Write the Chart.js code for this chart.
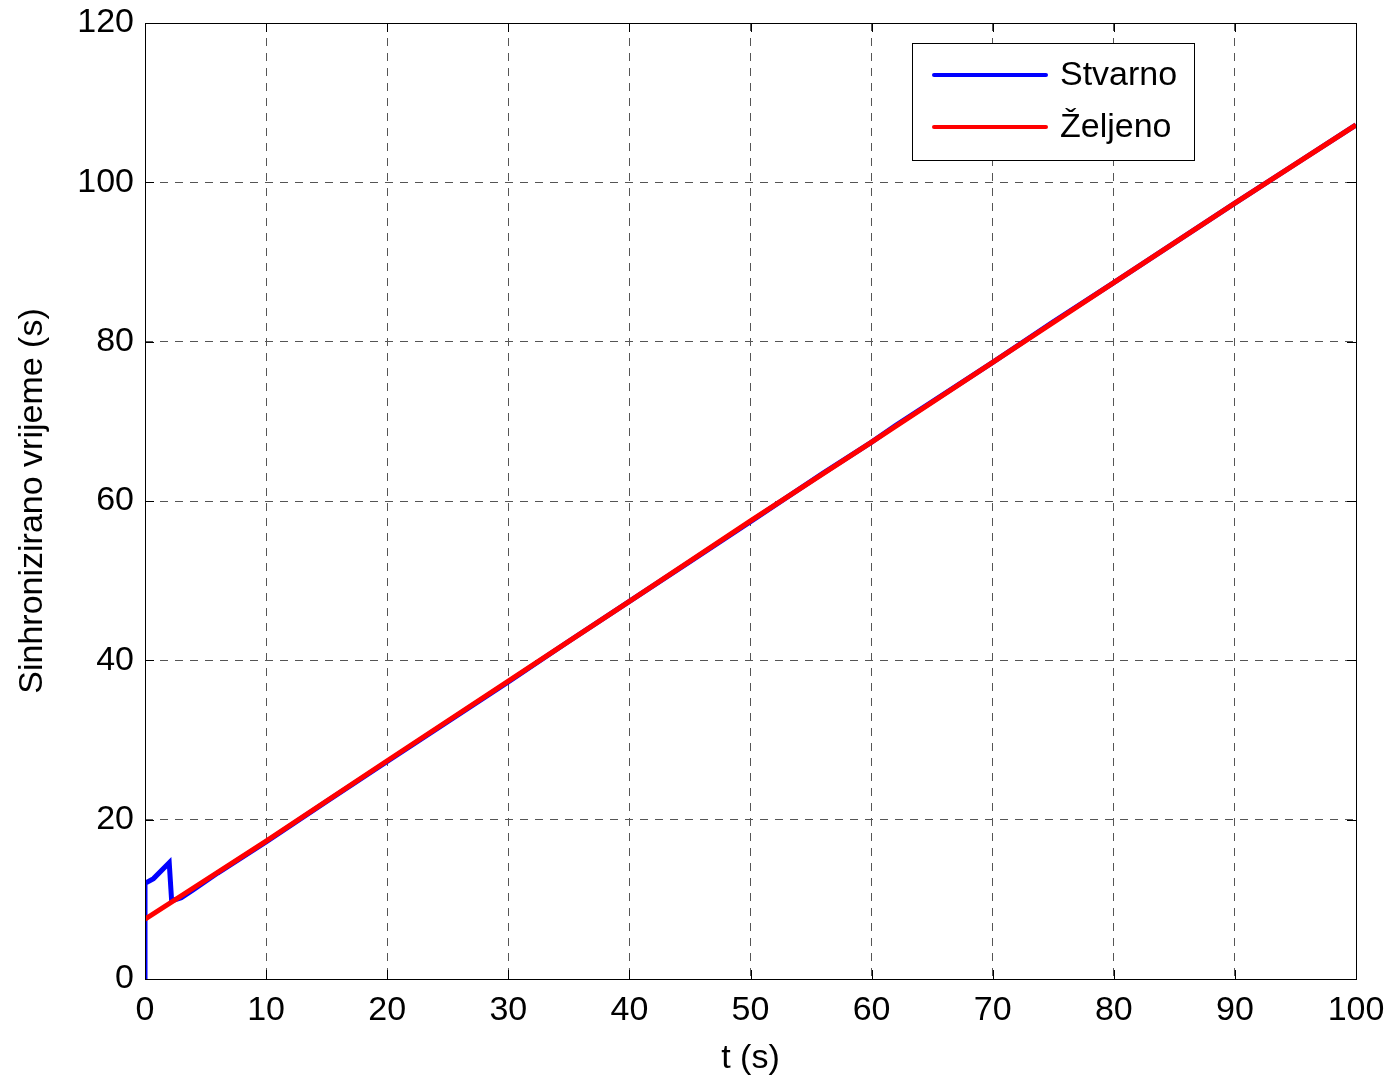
<!DOCTYPE html>
<html>
<head>
<meta charset="utf-8">
<script src="https://cdn.jsdelivr.net/npm/chart.js@4/dist/chart.umd.min.js"></script>
<style>
  html, body { margin: 0; padding: 0; background: #fff; }
  #wrap { width: 1393px; height: 1079px; }
</style>
</head>
<body>
<div id="wrap"><canvas id="syncChart"></canvas></div>
<script>
// Podaci očitani sa slike
const xTicks = [0, 10, 20, 30, 40, 50, 60, 70, 80, 90, 100];
const yTicks = [0, 20, 40, 60, 80, 100, 120];

const stvarnoT = [0, 0, 0.7, 2.0, 2.2, 3, 4, 6, 10, 15, 20, 25, 30, 35, 40, 45, 50, 56, 60, 62, 70, 75, 80, 90, 95, 100];
const stvarnoY = [0, 12.0, 12.6, 14.6, 9.8, 10.2, 11.2, 13.3, 17.2, 22.3, 27.3, 32.3, 37.3, 42.4, 47.4, 52.4, 57.4, 63.5, 67.4, 69.5, 77.4, 82.5, 87.4, 97.4, 102.3, 107.2];

const zeljenoT = [0, 10, 20, 30, 40, 50, 60, 70, 80, 90, 100];
const zeljenoY = [7.5, 17.3, 27.4, 37.4, 47.4, 57.5, 67.4, 77.4, 87.4, 97.4, 107.2];

const FONT = '"Liberation Sans", Arial, sans-serif';
const FS = 34;

function toPoints(xs, ys) {
    return xs.map((x, i) => ({ x: x, y: ys[i] }));
}

// Okvir, unutarnje crtice i legenda u stilu MATLAB-a
const matlabFrame = {
    id: 'matlabFrame',
    afterDatasetsDraw(chart) {
        const { ctx, chartArea: a, scales } = chart;
        ctx.save();
        ctx.strokeStyle = '#000';
        ctx.lineWidth = 1;
        ctx.setLineDash([]);
        ctx.strokeRect(a.left + 0.5, a.top + 0.5, a.right - a.left, a.bottom - a.top);

        const tl = 9;
        ctx.beginPath();
        xTicks.forEach(v => {
            const px = Math.round(scales.x.getPixelForValue(v)) + 0.5;
            ctx.moveTo(px, a.bottom); ctx.lineTo(px, a.bottom - tl);
            ctx.moveTo(px, a.top); ctx.lineTo(px, a.top + tl);
        });
        yTicks.forEach(v => {
            const py = Math.round(scales.y.getPixelForValue(v)) + 0.5;
            ctx.moveTo(a.left, py); ctx.lineTo(a.left + tl, py);
            ctx.moveTo(a.right, py); ctx.lineTo(a.right - tl, py);
        });
        ctx.stroke();

        // legenda
        const bx = 912, by = 43, bw = 282, bh = 117;
        ctx.fillStyle = '#fff';
        ctx.fillRect(bx, by, bw, bh);
        ctx.strokeRect(bx + 0.5, by + 0.5, bw, bh);
        ctx.font = FS + 'px ' + FONT;
        ctx.textBaseline = 'middle';
        ctx.textAlign = 'left';
        const rows = [75, 127];
        chart.data.datasets.forEach((ds, i) => {
            ctx.strokeStyle = ds.borderColor;
            ctx.lineWidth = 4;
            ctx.lineCap = 'round';
            ctx.beginPath();
            ctx.moveTo(934, rows[i]);
            ctx.lineTo(1046, rows[i]);
            ctx.stroke();
            ctx.fillStyle = '#000';
            ctx.fillText(ds.label, 1060, rows[i] + 1);
        });
        ctx.restore();
    }
};

new Chart(document.getElementById('syncChart'), {
    type: 'scatter',
    data: {
        datasets: [
            {
                label: 'Stvarno',
                data: toPoints(stvarnoT, stvarnoY),
                showLine: true,
                borderColor: '#0000ff',
                borderWidth: 5,
                pointRadius: 0,
                tension: 0,
                order: 1
            },
            {
                label: 'Željeno',
                data: toPoints(zeljenoT, zeljenoY),
                showLine: true,
                borderColor: '#ff0000',
                borderWidth: 5,
                pointRadius: 0,
                tension: 0,
                order: 0
            }
        ]
    },
    options: {
        responsive: true,
        maintainAspectRatio: false,
        animation: false,
        layout: { padding: { top: 23, right: 37, left: 0, bottom: 0 } },
        plugins: {
            legend: { display: false },
            tooltip: { enabled: false }
        },
        scales: {
            x: {
                type: 'linear',
                min: 0,
                max: 100,
                afterBuildTicks: s => { s.ticks = xTicks.map(v => ({ value: v })); },
                afterFit: s => { s.height = 100; s.paddingLeft = 0; s.paddingRight = 0; },
                grid: { color: '#555', drawTicks: false, lineWidth: 1 },
                border: { display: false, dash: [8, 7] },
                ticks: {
                    color: '#000',
                    padding: 11,
                    font: { family: FONT, size: FS },
                    maxRotation: 0
                },
                title: {
                    display: true,
                    text: 't (s)',
                    color: '#000',
                    font: { family: FONT, size: FS },
                    padding: { top: 0, bottom: 0 }
                }
            },
            y: {
                type: 'linear',
                min: 0,
                max: 120,
                afterBuildTicks: s => { s.ticks = yTicks.map(v => ({ value: v })); },
                afterFit: s => { s.width = 145; s.paddingTop = 0; s.paddingBottom = 0; },
                grid: { color: '#555', drawTicks: false, lineWidth: 1 },
                border: { display: false, dash: [8, 7] },
                ticks: {
                    color: '#000',
                    padding: 11,
                    font: { family: FONT, size: FS }
                },
                title: {
                    display: true,
                    text: 'Sinhronizirano vrijeme (s)',
                    color: '#000',
                    font: { family: FONT, size: FS },
                    padding: { top: 12, bottom: 0 }
                }
            }
        }
    },
    plugins: [matlabFrame]
});
</script>
</body>
</html>
